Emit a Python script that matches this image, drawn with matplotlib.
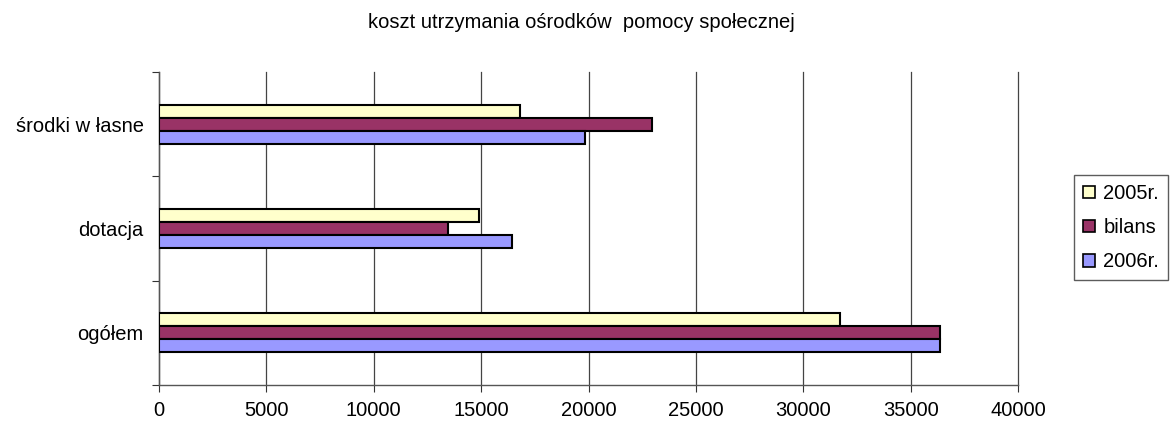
import matplotlib
matplotlib.use("Agg")
import matplotlib.pyplot as plt
import numpy as np
from matplotlib.patches import Patch

plt.rcParams['font.family'] = ['Liberation Sans', 'DejaVu Sans']

categories = ["ogółem", "dotacja", "środki w łasne"]
series_names = ["2005r.", "bilans", "2006r."]
v2005 = [31720, 14890, 16800]
vbilans = [36380, 13470, 22940]
v2006 = [36350, 16440, 19820]
colors = ["#FFFFCC", "#993366", "#9999FF"]
xticks = [0, 5000, 10000, 15000, 20000, 25000, 30000, 35000, 40000]

FS = 14.5

fig = plt.figure(figsize=(11.7, 4.21), dpi=100)
ax = fig.add_axes([159/1170, 1-385/421, (1018-159)/1170, (385-72)/421])

y = np.arange(len(categories))
h = 0.125
offsets = [h, 0, -h]
for vals, off, c in zip([v2005, vbilans, v2006], offsets, colors):
    ax.barh(y + off, vals, height=h, color=c, edgecolor='black', linewidth=1.5, zorder=3)

ax.set_xlim(0, 40000)
ax.set_ylim(-0.5, 2.5)
ax.set_xticks(xticks)
ax.set_xticklabels([str(t) for t in xticks], fontsize=FS)
ax.set_yticks([-0.5, 0.5, 1.5, 2.5])
ax.set_yticklabels([])
ax.set_yticks(y, minor=True)
ax.set_yticklabels(categories, minor=True, fontsize=FS)
ax.tick_params(axis='y', which='minor', length=0, pad=11)
ax.tick_params(axis='y', which='major', length=5, color='#333333')
ax.tick_params(axis='x', length=5, pad=6.5, color='#333333')
ax.grid(axis='x', color='#444444', linewidth=0.9, zorder=0)
for gl in ax.get_xgridlines():
    gl.set_clip_on(False)
ax.grid(axis='y', visible=False)
for s in ['top', 'right']:
    ax.spines[s].set_visible(False)
for s in ['left', 'bottom']:
    ax.spines[s].set_color('#555555')
    ax.spines[s].set_linewidth(1.0)

fig.text(581/1170, 1-22/421, "koszt utrzymania ośrodków  pomocy społecznej",
         ha='center', va='center', fontsize=FS)

handles = [Patch(facecolor=c, edgecolor='black', linewidth=1.2) for c in colors]
leg = fig.legend(handles, series_names, loc='upper left',
                 bbox_to_anchor=(1074/1170, 1-175/421), fontsize=FS,
                 frameon=True, fancybox=False, edgecolor='#333333',
                 handlelength=0.6, handleheight=0.6, handletextpad=0.4,
                 labelspacing=0.75, borderpad=0.45, borderaxespad=0)
leg.get_frame().set_linewidth(1.0)

fig.savefig("out.png", dpi=100)
